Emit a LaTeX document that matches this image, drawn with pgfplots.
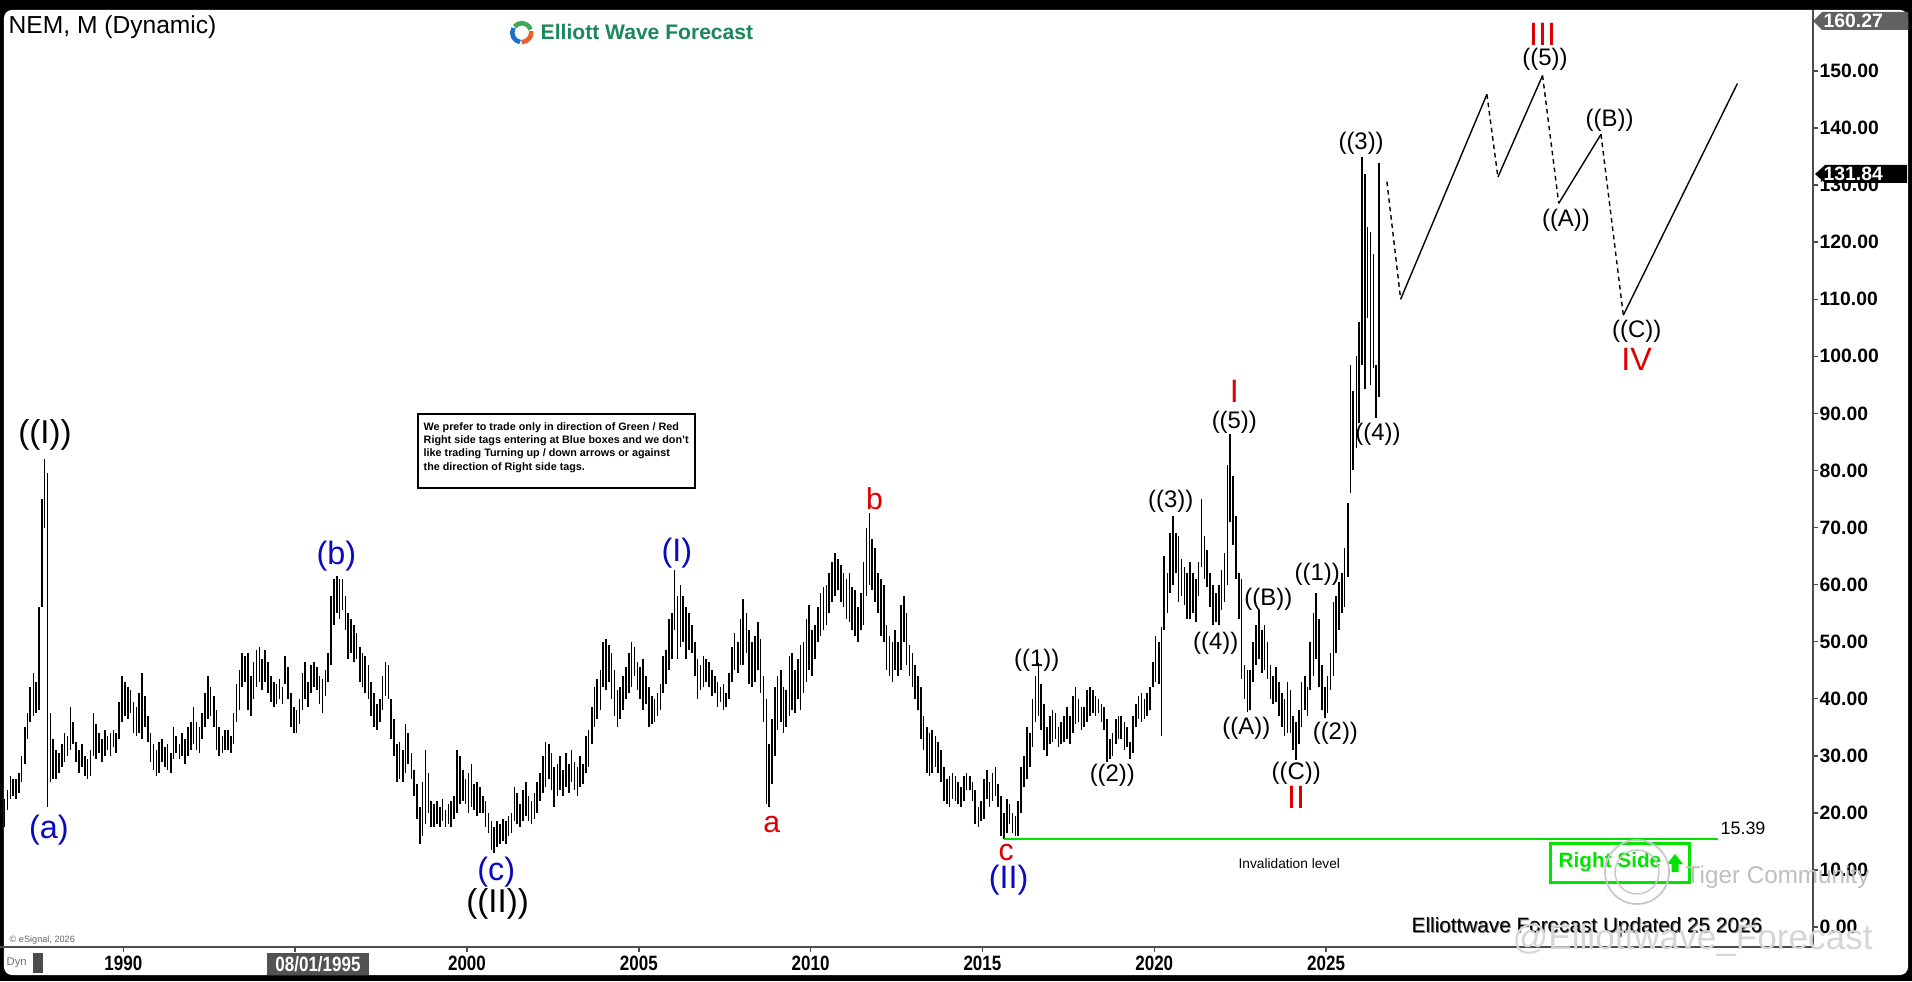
\documentclass[border=0pt]{standalone}
\usepackage{pgfplots}
\pgfplotsset{compat=1.18}
\usepackage{pgfplotstable}
\usepackage{fontspec}
\setmainfont{Liberation Sans}
\newfontfamily\narrowfont[FakeStretch=0.82]{Liberation Sans}
\definecolor{wblue}{RGB}{10,10,190}
\definecolor{wred}{RGB}{222,0,0}
\definecolor{invgreen}{RGB}{0,225,0}
\definecolor{rsgreen}{RGB}{0,228,0}
\definecolor{logogreen}{RGB}{28,135,90}

\pgfplotstableread{
x lo hi
1986.54 17.5 22.5
1986.63 20.5 24.0
1986.71 22.5 26.5
1986.79 23.0 26.0
1986.88 22.5 26.0
1986.96 23.5 27.0
1987.04 25.5 30.0
1987.13 28.5 35.0
1987.21 33.0 37.5
1987.29 36.0 42.0
1987.38 37.0 44.5
1987.46 37.5 43.0
1987.54 38.0 56.0
1987.63 56.0 75.0
1987.71 70.0 82.0
1987.79 21.0 79.5
1987.88 25.5 37.5
1987.96 26.0 33.0
1988.04 26.0 31.0
1988.13 27.0 30.5
1988.21 28.0 32.0
1988.29 29.0 34.0
1988.38 30.0 33.5
1988.46 31.0 38.5
1988.54 32.0 36.0
1988.63 29.0 32.5
1988.71 27.0 31.0
1988.79 28.0 32.0
1988.88 26.5 30.0
1988.96 26.0 29.5
1989.04 26.5 31.0
1989.13 30.0 37.5
1989.21 29.5 35.5
1989.29 30.5 34.0
1989.38 29.0 33.0
1989.46 30.0 34.5
1989.54 31.0 33.5
1989.63 30.0 34.0
1989.71 31.5 34.5
1989.79 30.5 34.0
1989.88 33.0 39.5
1989.96 36.0 44.0
1990.04 37.0 43.0
1990.13 36.5 42.0
1990.21 37.5 41.5
1990.29 34.0 39.5
1990.38 33.5 38.5
1990.46 34.0 41.0
1990.54 33.0 44.5
1990.63 35.0 40.5
1990.71 32.5 37.0
1990.79 29.0 34.0
1990.88 27.5 32.0
1990.96 26.5 31.0
1991.04 27.0 32.5
1991.13 29.0 33.0
1991.21 28.0 31.5
1991.29 27.5 32.0
1991.38 27.0 30.5
1991.46 29.5 35.0
1991.54 30.5 33.5
1991.63 29.5 32.0
1991.71 30.0 34.0
1991.79 28.5 33.0
1991.88 30.0 35.0
1991.96 31.0 36.0
1992.04 32.0 38.5
1992.13 31.0 36.0
1992.21 30.5 35.0
1992.29 33.0 37.5
1992.38 35.0 41.0
1992.46 36.5 44.0
1992.54 37.0 42.0
1992.63 35.0 40.5
1992.71 31.0 38.0
1992.79 30.0 35.0
1992.88 30.5 33.5
1992.96 31.0 34.5
1993.04 31.0 34.5
1993.13 30.5 33.5
1993.21 32.0 37.5
1993.29 36.0 42.5
1993.38 38.0 45.0
1993.46 42.0 48.0
1993.54 43.0 47.5
1993.63 38.0 48.0
1993.71 37.0 44.0
1993.79 40.0 46.5
1993.88 42.0 48.5
1993.96 43.0 49.0
1994.04 41.5 47.0
1994.13 43.0 48.5
1994.21 41.0 46.5
1994.29 39.5 44.0
1994.38 38.5 43.0
1994.46 39.0 42.5
1994.54 40.0 43.5
1994.63 39.0 42.0
1994.71 42.5 47.5
1994.79 40.0 45.5
1994.88 35.0 41.0
1994.96 34.0 38.5
1995.04 34.0 38.0
1995.13 35.5 40.0
1995.21 38.0 44.5
1995.29 40.0 46.5
1995.38 38.5 43.0
1995.46 41.0 46.0
1995.54 42.0 46.5
1995.63 41.5 45.5
1995.71 39.0 44.0
1995.79 37.5 43.5
1995.88 40.5 45.0
1995.96 43.0 48.0
1996.04 46.0 58.0
1996.13 53.0 61.0
1996.21 55.0 61.5
1996.29 54.0 61.0
1996.38 55.5 61.0
1996.46 52.0 58.0
1996.54 47.0 55.0
1996.63 48.0 54.0
1996.71 46.5 53.0
1996.79 47.0 51.5
1996.88 43.0 49.0
1996.96 42.0 48.0
1997.04 41.0 47.5
1997.13 40.0 46.0
1997.21 37.0 43.0
1997.29 35.0 41.0
1997.38 34.5 39.0
1997.46 36.0 40.0
1997.54 38.0 44.0
1997.63 40.5 46.5
1997.71 40.0 46.0
1997.79 33.0 40.0
1997.88 30.0 36.5
1997.96 25.5 32.0
1998.04 26.0 32.5
1998.13 25.5 31.0
1998.21 27.0 35.5
1998.29 28.5 34.0
1998.38 26.0 30.5
1998.46 23.0 27.5
1998.54 19.0 25.0
1998.63 14.5 21.0
1998.71 16.0 25.5
1998.79 18.0 31.0
1998.88 20.0 27.0
1998.96 17.5 22.0
1999.04 17.5 21.5
1999.13 18.0 22.0
1999.21 17.5 21.0
1999.29 18.5 22.5
1999.38 17.5 20.5
1999.46 18.0 21.5
1999.54 17.5 22.0
1999.63 19.0 23.0
1999.71 20.0 31.0
1999.79 21.5 30.0
1999.88 22.0 27.5
1999.96 21.5 26.0
2000.04 20.0 27.0
2000.13 21.0 28.5
2000.21 20.5 25.0
2000.29 19.5 25.5
2000.38 20.0 24.5
2000.46 20.0 23.0
2000.54 17.5 22.0
2000.63 16.5 20.0
2000.71 13.5 18.5
2000.79 13.0 17.5
2000.88 14.0 18.5
2000.96 14.5 18.0
2001.04 15.0 19.0
2001.13 14.5 18.5
2001.21 16.0 19.5
2001.29 16.5 20.0
2001.38 18.5 24.5
2001.46 18.0 23.5
2001.54 17.5 21.5
2001.63 18.5 24.0
2001.71 19.5 25.5
2001.79 18.5 23.0
2001.88 18.0 22.0
2001.96 19.0 23.5
2002.04 20.0 25.5
2002.13 22.0 27.0
2002.21 23.5 30.0
2002.29 24.5 32.5
2002.38 26.0 32.0
2002.46 24.0 30.5
2002.54 21.0 28.0
2002.63 23.0 28.5
2002.71 24.0 30.0
2002.79 23.0 27.5
2002.88 24.5 30.5
2002.96 23.5 28.5
2003.04 25.5 31.0
2003.13 24.0 29.0
2003.21 23.0 28.0
2003.29 24.5 30.0
2003.38 25.0 28.5
2003.46 27.0 33.5
2003.54 28.0 34.5
2003.63 32.0 38.5
2003.71 35.0 42.0
2003.79 36.5 43.5
2003.88 38.0 45.0
2003.96 42.0 50.0
2004.04 41.5 50.5
2004.13 43.0 49.5
2004.21 40.0 48.0
2004.29 37.0 45.0
2004.38 35.0 41.5
2004.46 36.5 42.0
2004.54 38.0 44.0
2004.63 40.0 45.5
2004.71 41.0 48.0
2004.79 42.0 50.0
2004.88 44.0 49.0
2004.96 41.5 46.5
2005.04 40.0 45.5
2005.13 38.0 47.0
2005.21 39.0 44.0
2005.29 35.0 42.0
2005.38 35.5 40.5
2005.46 36.0 40.0
2005.54 37.0 41.0
2005.63 38.0 42.5
2005.71 41.0 47.5
2005.79 42.5 48.5
2005.88 45.0 54.0
2005.96 47.0 55.0
2006.04 52.0 62.5
2006.13 47.0 58.0
2006.21 49.0 60.0
2006.29 50.0 58.0
2006.38 47.0 56.0
2006.46 48.5 55.0
2006.54 48.0 53.0
2006.63 44.0 50.0
2006.71 40.0 47.0
2006.79 41.5 46.0
2006.88 42.0 47.5
2006.96 43.0 47.0
2007.04 42.0 46.5
2007.13 40.5 45.0
2007.21 41.0 44.0
2007.29 38.5 43.0
2007.38 39.5 42.0
2007.46 38.0 42.5
2007.54 38.5 41.0
2007.63 40.0 44.5
2007.71 43.0 49.0
2007.79 45.0 51.5
2007.88 44.5 50.0
2007.96 46.0 54.0
2008.04 46.0 57.5
2008.13 48.0 55.0
2008.21 42.5 52.0
2008.29 42.0 50.0
2008.38 43.0 51.0
2008.46 45.0 53.5
2008.54 41.0 50.5
2008.63 36.0 44.0
2008.71 21.5 40.0
2008.79 21.0 32.0
2008.88 25.0 36.5
2008.96 30.0 42.0
2009.04 34.5 44.0
2009.13 36.0 45.0
2009.21 34.0 42.0
2009.29 35.0 41.5
2009.38 37.0 47.5
2009.46 38.0 48.0
2009.54 37.5 45.0
2009.63 40.0 47.0
2009.71 38.0 49.5
2009.79 41.0 50.0
2009.88 43.0 54.0
2009.96 45.0 56.5
2010.04 44.0 52.0
2010.13 47.0 53.0
2010.21 50.0 56.0
2010.29 51.0 58.5
2010.38 52.0 59.5
2010.46 53.0 60.0
2010.54 55.0 62.0
2010.63 57.0 64.0
2010.71 58.0 65.5
2010.79 59.0 64.5
2010.88 57.0 63.5
2010.96 56.0 62.0
2011.04 54.0 61.0
2011.13 53.5 62.0
2011.21 52.0 59.5
2011.29 51.0 59.0
2011.38 50.0 56.0
2011.46 52.0 58.5
2011.54 53.0 64.0
2011.63 58.0 70.0
2011.71 60.0 72.5
2011.79 59.0 68.0
2011.88 57.0 66.5
2011.96 55.0 62.0
2012.04 51.0 61.0
2012.13 50.0 60.0
2012.21 45.0 53.0
2012.29 44.0 51.0
2012.38 43.0 50.0
2012.46 45.0 52.0
2012.54 44.0 50.0
2012.63 45.0 56.5
2012.71 50.0 58.0
2012.79 46.0 55.0
2012.88 44.0 49.5
2012.96 42.0 48.0
2013.04 40.0 46.0
2013.13 38.0 44.0
2013.21 33.0 42.0
2013.29 31.0 37.0
2013.38 27.0 35.0
2013.46 26.5 34.0
2013.54 27.0 34.5
2013.63 28.0 33.5
2013.71 27.0 32.5
2013.79 25.5 31.0
2013.88 22.0 28.0
2013.96 21.5 26.0
2014.04 21.0 26.5
2014.13 22.5 27.0
2014.21 22.0 26.5
2014.29 21.5 25.5
2014.38 21.0 24.5
2014.46 22.0 26.5
2014.54 24.0 27.0
2014.63 24.0 26.5
2014.71 22.0 25.5
2014.79 18.0 24.0
2014.88 17.5 21.0
2014.96 18.5 22.0
2015.04 19.0 26.0
2015.13 22.5 27.5
2015.21 21.0 25.5
2015.29 22.0 27.0
2015.38 23.0 28.0
2015.46 21.0 25.0
2015.54 16.0 23.0
2015.63 15.4 20.0
2015.71 16.5 22.5
2015.79 18.0 21.5
2015.88 16.5 20.0
2015.96 16.0 19.5
2016.04 16.0 22.0
2016.13 20.0 28.0
2016.21 24.5 30.0
2016.29 26.0 35.0
2016.38 28.0 34.0
2016.46 31.5 40.0
2016.54 36.0 44.0
2016.63 37.0 46.3
2016.71 34.5 42.5
2016.79 31.0 39.0
2016.88 30.0 35.0
2016.96 32.0 37.0
2017.04 32.5 38.0
2017.13 33.0 37.5
2017.21 31.5 35.0
2017.29 32.0 36.0
2017.38 32.5 37.0
2017.46 33.0 38.5
2017.54 32.0 37.0
2017.63 34.0 40.5
2017.71 35.5 42.0
2017.79 36.0 40.0
2017.88 34.5 38.5
2017.96 35.0 38.5
2018.04 36.0 41.5
2018.13 37.0 42.0
2018.21 37.5 41.5
2018.29 37.0 40.5
2018.38 37.5 40.0
2018.46 36.0 39.0
2018.54 34.5 38.5
2018.63 29.0 36.5
2018.71 29.5 33.0
2018.79 30.0 34.0
2018.88 32.0 36.5
2018.96 33.0 37.0
2019.04 33.0 37.0
2019.13 31.0 36.0
2019.21 31.5 35.0
2019.29 29.5 32.5
2019.38 30.5 37.0
2019.46 35.0 39.0
2019.54 36.5 40.5
2019.63 36.0 41.0
2019.71 36.5 40.0
2019.79 37.0 41.0
2019.88 38.0 42.0
2019.96 42.0 46.5
2020.04 43.0 51.0
2020.13 42.5 50.0
2020.21 33.5 52.5
2020.29 52.0 65.0
2020.38 55.0 62.0
2020.46 58.5 69.0
2020.54 60.0 72.0
2020.63 62.0 69.0
2020.71 57.0 68.5
2020.79 58.0 64.5
2020.88 56.5 63.0
2020.96 54.0 62.0
2021.04 54.0 64.0
2021.13 55.0 62.0
2021.21 53.5 61.0
2021.29 58.0 64.0
2021.38 63.0 75.0
2021.46 61.0 68.5
2021.54 59.5 66.0
2021.63 56.0 62.0
2021.71 53.0 60.0
2021.79 53.5 58.5
2021.88 53.0 60.0
2021.96 55.5 62.5
2022.04 57.0 65.5
2022.13 60.0 81.0
2022.21 71.0 86.4
2022.29 67.0 79.0
2022.38 61.0 72.0
2022.46 54.0 62.0
2022.54 43.5 61.0
2022.63 40.0 46.0
2022.71 37.6 45.0
2022.79 38.0 45.0
2022.88 43.0 50.0
2022.96 46.0 53.0
2023.04 47.0 55.5
2023.13 44.5 52.0
2023.21 45.0 53.0
2023.29 43.5 50.0
2023.38 40.0 46.0
2023.46 39.0 44.0
2023.54 39.5 45.5
2023.63 37.0 43.0
2023.71 35.0 41.0
2023.79 33.5 40.0
2023.88 34.0 43.0
2023.96 34.0 41.5
2024.04 31.0 37.0
2024.13 29.3 36.0
2024.21 32.0 38.0
2024.29 35.0 43.0
2024.38 38.0 44.0
2024.46 37.0 42.0
2024.54 41.5 50.0
2024.63 44.0 55.0
2024.71 47.0 58.5
2024.79 42.0 54.0
2024.88 38.0 46.0
2024.96 36.7 42.0
2025.04 37.5 44.0
2025.13 41.5 48.0
2025.21 44.0 57.0
2025.29 48.0 58.0
2025.38 52.0 60.5
2025.46 55.0 62.0
2025.54 56.0 66.5
2025.63 61.3 74.3
2025.71 76.0 98.5
2025.79 80.0 94.0
2025.88 84.0 100.0
2025.96 88.3 106.0
2026.04 98.5 134.9
2026.13 94.3 131.9
2026.21 106.8 122.6
2026.29 95.0 121.7
2026.38 98.0 118.0
2026.46 89.2 98.5
2026.54 92.9 133.8
}\bars

\begin{document}
\begin{tikzpicture}
\useasboundingbox (0,0) rectangle (19.12,9.81);
\fill[black] (0,0) rectangle (19.12,9.81);
\fill[white, rounded corners=0.08cm] (0.04,0.06) rectangle (19.08,9.71);
\begin{axis}[
  at={(0,0.34cm)}, anchor=south west,
  scale only axis, width=18.13cm, height=9.37cm,
  xmin=1986.41, xmax=2039.17, ymin=-3.50, ymax=160.68,
  clip=false,
  axis x line*=bottom, axis y line*=right,
  axis line style={black!70, line width=0.4pt},
  tick align=outside, major tick length=0.05cm,
  tick style={black!70, line width=0.4pt},
  xtick={1990,1995,2000,2005,2010,2015,2020,2025},
  xticklabels={1990,{},2000,2005,2010,2015,2020,2025},
  xticklabel style={anchor=center, inner sep=0pt, yshift=-0.11cm, font=\narrowfont\bfseries\fontsize{5.9}{6}\selectfont},
  ytick={0,10,...,150},
  yticklabel style={anchor=west, inner sep=0pt, xshift=0.01cm, font=\bfseries\fontsize{5.5}{6}\selectfont},
  /pgf/number format/.cd, fixed, fixed zerofill, precision=2, assume math mode=true, 1000 sep={},
]
\addplot[draw=none, mark=none, forget plot, error bars/.cd, y dir=plus, y explicit, error mark=none,
  error bar style={draw=black, solid, line width=0.45pt}]
  table[x=x, y=lo, y error expr=\thisrow{hi}-\thisrow{lo}] {\bars};

% invalidation level
\addplot[invgreen, line width=0.65pt] coordinates {(2015.63,15.39) (2036.41,15.39)};

% projection path
\addplot[black, line width=0.4pt, dash pattern=on 1.3pt off 1.1pt] coordinates {(2026.77,130.6) (2027.17,110.0)};
\addplot[black, line width=0.4pt] coordinates {(2027.17,110.0) (2029.68,145.9)};
\addplot[black, line width=0.4pt, dash pattern=on 1.3pt off 1.1pt] coordinates {(2029.68,145.9) (2030.00,131.4)};
\addplot[black, line width=0.4pt] coordinates {(2030.00,131.4) (2031.30,149.2)};
\addplot[black, line width=0.4pt, dash pattern=on 1.3pt off 1.1pt] coordinates {(2031.30,149.2) (2031.77,126.8)};
\addplot[black, line width=0.4pt] coordinates {(2031.77,126.8) (2033.00,138.9)};
\addplot[black, line width=0.4pt, dash pattern=on 1.3pt off 1.1pt] coordinates {(2033.00,138.9) (2033.65,107.2)};
\addplot[black, line width=0.4pt] coordinates {(2033.65,107.2) (2036.97,147.8)};

% wave labels
\begin{scope}[every node/.style={inner sep=0pt}]
\node[font=\fontsize{9.4}{10}\selectfont] at (axis cs:1987.72,86.2) {((I))};
\node[font=\fontsize{9.4}{10}\selectfont] at (axis cs:2000.89,4.1) {((II))};
\node[text=wblue, font=\fontsize{9.2}{10}\selectfont] at (axis cs:1987.83,16.9) {(a)};
\node[text=wblue, font=\fontsize{9.2}{10}\selectfont] at (axis cs:1996.20,65.0) {(b)};
\node[text=wblue, font=\fontsize{9.2}{10}\selectfont] at (axis cs:2000.85,9.6) {(c)};
\node[text=wblue, font=\fontsize{9.2}{10}\selectfont] at (axis cs:2006.11,65.6) {(I)};
\node[text=wblue, font=\fontsize{9.2}{10}\selectfont] at (axis cs:2015.76,8.2) {(II)};
\node[text=wred, font=\fontsize{8.6}{10}\selectfont] at (axis cs:2008.87,18.0) {a};
\node[text=wred, font=\fontsize{8.6}{10}\selectfont] at (axis cs:2011.86,75.0) {b};
\node[text=wred, font=\fontsize{8.6}{10}\selectfont] at (axis cs:2015.69,13.0) {c};
\node[text=wred, font=\fontsize{9.2}{10}\selectfont] at (axis cs:2022.33,93.8) {I};
\node[text=wred, font=\fontsize{9.2}{10}\selectfont] at (axis cs:2024.13,22.7) {II};
\node[text=wred, font=\fontsize{9.2}{10}\selectfont] at (axis cs:2031.30,156.4) {III};
\node[text=wred, font=\fontsize{9.2}{10}\selectfont] at (axis cs:2034.04,99.4) {IV};
\node[font=\fontsize{6.8}{7}\selectfont] at (axis cs:2016.58,46.8) {((1))};
\node[font=\fontsize{6.8}{7}\selectfont] at (axis cs:2018.78,26.5) {((2))};
\node[font=\fontsize{6.8}{7}\selectfont] at (axis cs:2020.48,74.6) {((3))};
\node[font=\fontsize{6.8}{7}\selectfont] at (axis cs:2021.79,49.8) {((4))};
\node[font=\fontsize{6.8}{7}\selectfont] at (axis cs:2022.33,88.5) {((5))};
\node[font=\fontsize{6.8}{7}\selectfont] at (axis cs:2022.68,34.9) {((A))};
\node[font=\fontsize{6.8}{7}\selectfont] at (axis cs:2023.32,57.5) {((B))};
\node[font=\fontsize{6.8}{7}\selectfont] at (axis cs:2024.13,27.0) {((C))};
\node[font=\fontsize{6.8}{7}\selectfont] at (axis cs:2024.74,61.8) {((1))};
\node[font=\fontsize{6.8}{7}\selectfont] at (axis cs:2025.27,34.0) {((2))};
\node[font=\fontsize{6.8}{7}\selectfont] at (axis cs:2026.02,137.4) {((3))};
\node[font=\fontsize{6.8}{7}\selectfont] at (axis cs:2026.51,86.4) {((4))};
\node[font=\fontsize{6.8}{7}\selectfont] at (axis cs:2031.37,152.0) {((5))};
\node[font=\fontsize{6.8}{7}\selectfont] at (axis cs:2031.98,123.8) {((A))};
\node[font=\fontsize{6.8}{7}\selectfont] at (axis cs:2033.25,141.3) {((B))};
\node[font=\fontsize{6.8}{7}\selectfont] at (axis cs:2034.04,104.3) {((C))};
\node[font=\fontsize{3.9}{4}\selectfont] at (axis cs:2023.93,11.1) {Invalidation level};
\node[anchor=west, font=\fontsize{5.1}{6}\selectfont] at (axis cs:2036.46,17.3) {15.39};
\end{scope}
\end{axis}

% title and logo
\node[anchor=west, inner sep=0pt, font=\fontsize{7}{8}\selectfont] at (0.08,9.54) {NEM, M (Dynamic)};
\draw[line width=1.3pt, color={rgb,255:red,60;green,170;blue,90}] (5.217,9.483) ++(20:0.095) arc (20:140:0.095);
\draw[line width=1.3pt, color={rgb,255:red,30;green,110;blue,210}] (5.217,9.483) ++(150:0.095) arc (150:260:0.095);
\draw[line width=1.3pt, color={rgb,255:red,235;green,95;blue,40}] (5.217,9.483) ++(270:0.095) arc (270:370:0.095);
\node[anchor=west, inner sep=0pt, text=logogreen, font=\bfseries\fontsize{6}{7}\selectfont] at (5.40,9.49) {Elliott Wave Forecast};

% note box
\draw[black, line width=0.6pt, fill=white] (4.18,4.93) rectangle (6.95,5.67);
\node[anchor=north west, inner sep=0pt, align=left, font=\bfseries\fontsize{3.07}{3.75}\selectfont] at (4.23,5.59)
  {We prefer to trade only in direction of Green / Red\\Right side tags entering at Blue boxes and we don't\\like trading Turning up / down arrows or against\\the direction of Right side tags.};

% price tags on the right axis
\fill[black!62] (18.13,9.60) -- (18.22,9.69) -- (19.08,9.69) -- (19.08,9.51) -- (18.22,9.51) -- cycle;
\node[anchor=west, inner sep=0pt, text=white, font=\bfseries\fontsize{5.5}{6}\selectfont] at (18.23,9.60) {160.27};
\fill[black] (18.15,8.07) -- (18.25,8.16) -- (19.07,8.16) -- (19.07,7.98) -- (18.25,7.98) -- cycle;
\node[anchor=west, inner sep=0pt, text=white, font=\bfseries\fontsize{5.5}{6}\selectfont] at (18.23,8.07) {131.84};

% right side tag
\draw[rsgreen, line width=0.85pt] (15.50,1.38) rectangle (16.89,0.99);
\node[anchor=west, inner sep=0pt, text=rsgreen, font=\bfseries\fontsize{5.9}{6}\selectfont] at (15.58,1.19) {Right Side};
\fill[rsgreen] (16.67,1.17) -- (16.75,1.27) -- (16.83,1.17) -- (16.785,1.17) -- (16.785,1.09) -- (16.715,1.09) -- (16.715,1.17) -- cycle;

% watermarks
\draw[black!22, line width=0.5pt] (16.37,1.09) circle (0.32);
\draw[black!22, line width=0.4pt] (16.37,1.09) circle (0.22);
\node[anchor=west, inner sep=0pt, text=black!25, font=\fontsize{6.9}{7}\selectfont] at (16.85,1.04) {Tiger Community};
\node[anchor=west, inner sep=0pt, text=black!50, font=\fontsize{5.9}{6}\selectfont] at (14.12,0.53) {Elliottwave Forecast Updated 25 2026};
\node[anchor=west, inner sep=0pt, text=black, font=\fontsize{5.9}{6}\selectfont] at (14.11,0.54) {Elliottwave Forecast Updated 25 2026};
\node[anchor=west, inner sep=0pt, text=black!16, font=\fontsize{10}{10}\selectfont] at (15.12,0.41) {@Elliottwave\_Forecast};

% bottom-left bits
\node[anchor=west, inner sep=0pt, text=black!60, font=\fontsize{2.6}{3}\selectfont] at (0.09,0.41) {\textcopyright{} eSignal, 2026};
\node[anchor=west, inner sep=0pt, text=black!55, font=\fontsize{3.2}{4}\selectfont] at (0.06,0.18) {Dyn};
\fill[black!70] (0.33,0.08) rectangle (0.43,0.28);
\fill[black!68] (2.67,0.06) rectangle (3.69,0.28);
\node[inner sep=0pt, text=white, font=\narrowfont\bfseries\fontsize{5.9}{6}\selectfont] at (3.18,0.17) {08/01/1995};
\end{tikzpicture}
\end{document}
